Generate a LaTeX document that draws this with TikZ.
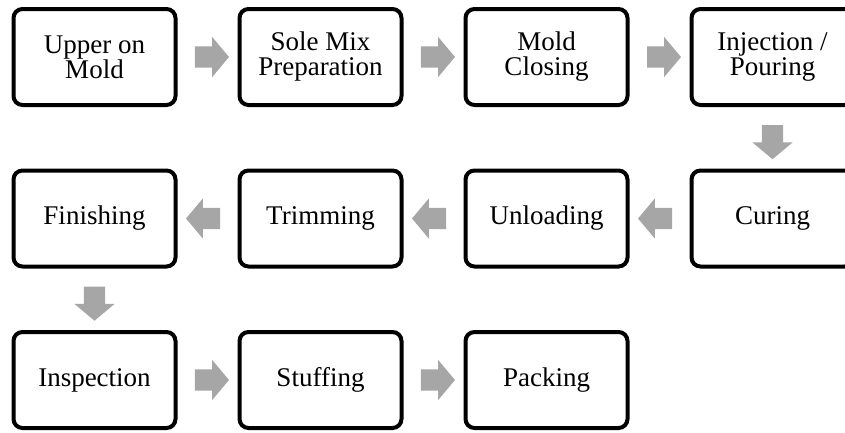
\documentclass[tikz,border=0pt]{standalone}
\usepackage{fontspec}
\setmainfont{Liberation Serif}
\usepackage{tikz}
\usetikzlibrary{shapes.arrows, calc, positioning}

\definecolor{arrgray}{HTML}{A6A6A6}

\begin{document}
\begin{tikzpicture}[
    x=1pt, y=-1pt,
    box/.style={draw, rounded corners=9pt, line width=4pt, fill=white, minimum width=162pt, minimum height=96pt, inner sep=0pt, font=\fontsize{27}{25}\selectfont, align=center},
    blockarr/.style={single arrow, fill=arrgray, draw=none, minimum height=34pt, single arrow head extend=9.5pt, single arrow head indent=0pt, single arrow tip angle=100, inner sep=0pt, outer sep=0pt},
]
    \clip (0,0) rectangle (845,432);

    % row 1
    \node[box] (upper) at (94.5, 57) {Upper on\\Mold};
    \node[box] (solemix) at (320.5, 57) {Sole Mix\\Preparation};
    \node[box] (closing) at (546.5, 57) {Mold\\Closing};
    \node[box] (pouring) at (772.5, 57) {Injection /\\Pouring};
    % row 2
    \node[box] (curing) at (772.5, 218.5) {Curing};
    \node[box] (unloading) at (546.5, 218.5) {Unloading};
    \node[box] (trimming) at (320.5, 218.5) {Trimming};
    \node[box] (finishing) at (94.5, 218.5) {Finishing};
    % row 3
    \node[box] (inspection) at (94.5, 380) {Inspection};
    \node[box] (stuffing) at (320.5, 380) {Stuffing};
    \node[box] (packing) at (546.5, 380) {Packing};

    \node[blockarr] (a1) at ($(upper.east)!0.5!(solemix.west)$) {\rule{0pt}{21pt}};
    \node[blockarr] (a2) at ($(solemix.east)!0.5!(closing.west)$) {\rule{0pt}{21pt}};
    \node[blockarr] (a3) at ($(closing.east)!0.5!(pouring.west)$) {\rule{0pt}{21pt}};
    \node[blockarr, rotate=-90] (a4) at ($(pouring.south)!0.5!(curing.north)$) {\rule{0pt}{21pt}};
    \node[blockarr, rotate=180] (a5) at ($(curing.west)!0.5!(unloading.east)$) {\rule{0pt}{21pt}};
    \node[blockarr, rotate=180] (a6) at ($(unloading.west)!0.5!(trimming.east)$) {\rule{0pt}{21pt}};
    \node[blockarr, rotate=180] (a7) at ($(trimming.west)!0.5!(finishing.east)$) {\rule{0pt}{21pt}};
    \node[blockarr, rotate=-90] (a8) at ($(finishing.south)!0.5!(inspection.north)$) {\rule{0pt}{21pt}};
    \node[blockarr] (a9) at ($(inspection.east)!0.5!(stuffing.west)$) {\rule{0pt}{21pt}};
    \node[blockarr] (a10) at ($(stuffing.east)!0.5!(packing.west)$) {\rule{0pt}{21pt}};
\end{tikzpicture}
\end{document}
